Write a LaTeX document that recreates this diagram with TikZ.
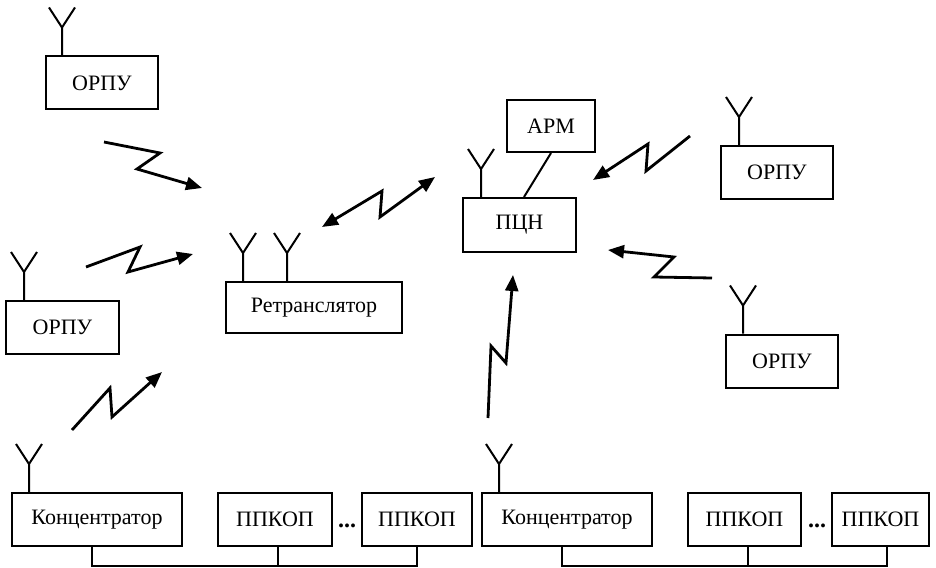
\documentclass[tikz,border=0pt]{standalone}
\usepackage{fontspec}
\setmainfont{Liberation Serif}
\usetikzlibrary{arrows.meta,calc}
\begin{document}
\begin{tikzpicture}[x=0.5pt,y=-0.5pt,
  box/.style={draw,line width=1pt,inner sep=0pt,minimum height=26.5pt,font=\fontsize{11}{13}\selectfont},
  zz/.style={line width=1.4pt,line join=miter,-{Triangle[length=8pt,width=6.5pt]}},
  zzb/.style={line width=1.4pt,line join=miter,{Triangle[length=8pt,width=6.5pt]}-{Triangle[length=8pt,width=6.5pt]}},
  bus/.style={line width=1pt},
  dotsty/.style={inner sep=0pt,anchor=base,font=\fontsize{12}{13}\selectfont\bfseries},
  antenna/.pic={\draw[line width=1pt] (0,0) -- (0,-28) (-13,-48) -- (0,-28) -- (13,-48);}]
\useasboundingbox (0,0) rectangle (936,567);

% boxes
\node[box,minimum width=56pt] (orpu1) at (102,83) {ОРПУ};
\node[box,minimum width=56.5pt] (orpu2) at (62.5,327.5) {ОРПУ};
\node[box,minimum width=56pt] (orpu3) at (777,172.5) {ОРПУ};
\node[box,minimum width=56pt] (orpu4) at (782,361) {ОРПУ};
\node[box,minimum width=88pt,minimum height=25.5pt] (retr) at (314,307.5) {Ретранслятор};
\node[box,minimum width=56.5pt,minimum height=27pt] (pcn) at (519.5,225) {ПЦН};
\node[box,minimum width=44pt,minimum height=26pt] (arm) at (551,126) {АРМ};
\node[box,minimum width=85pt] (konc1) at (97,519.5) {Концентратор};
\node[box,minimum width=57pt] (pp1) at (275,519.5) {ППКОП};
\node[box,minimum width=55pt] (pp2) at (417,519.5) {ППКОП};
\node[box,minimum width=85pt] (konc2) at (567,519.5) {Концентратор};
\node[box,minimum width=56.5pt] (pp3) at (744.5,519.5) {ППКОП};
\node[box,minimum width=48.5pt] (pp4) at (880.5,519.5) {ППКОП};

% dots
\node[dotsty] (dots1) at (347,527) {...};
\node[dotsty] (dots2) at (817,527) {...};

% antennas
\pic at ($(orpu1.north west)+(17,0)$) {antenna};
\pic at ($(orpu2.north west)+(19,0)$) {antenna};
\pic at ($(orpu3.north west)+(19,0)$) {antenna};
\pic at ($(orpu4.north west)+(18,0)$) {antenna};
\pic at ($(retr.north west)+(18,0)$) {antenna};
\pic at ($(retr.north west)+(62,0)$) {antenna};
\pic at ($(pcn.north west)+(19,0)$) {antenna};
\pic at ($(konc1.north west)+(18,0)$) {antenna};
\pic at ($(konc2.north west)+(18,0)$) {antenna};

% ARM - PCN
\draw[line width=1pt] (arm.south) -- ($(pcn.north)+(4.5,0)$);

% radio links
\coordinate (a1s) at (104,142); \coordinate (a1e) at (202,188);
\draw[zz] (a1s) -- (160,153) -- (137,169) -- (a1e);
\coordinate (a2s) at (86,267); \coordinate (a2e) at (193,254);
\draw[zz] (a2s) -- (140,247) -- (128,272) -- (a2e);
\coordinate (a3s) at (72,430); \coordinate (a3e) at (162,372);
\draw[zz] (a3s) -- (110,388) -- (112,417) -- (a3e);
\coordinate (a4s) at (322,227); \coordinate (a4e) at (435,177);
\draw[zzb] (a4s) -- (382,191) -- (380,217) -- (a4e);
\coordinate (a5s) at (690,136); \coordinate (a5e) at (593,180);
\draw[zz] (a5s) -- (646,171) -- (648,144) -- (a5e);
\coordinate (a6s) at (712,278); \coordinate (a6e) at (608,250);
\draw[zz] (a6s) -- (654,277) -- (674,257) -- (a6e);
\coordinate (a7s) at (488,418); \coordinate (a7e) at (513,275);
\draw[zz] (a7s) -- (491,346) -- (506,363) -- (a7e);

% buses
\draw[bus] ($(konc1.south)+(-5,0)$) -- ++(0,19) -| (pp2.south);
\draw[bus] ($(pp1.south)+(3,0)$) -- ++(0,19);
\draw[bus] ($(konc2.south)+(-5,0)$) -- ++(0,19) -| ($(pp4.south)+(6.5,0)$);
\draw[bus] ($(pp3.south)+(3.5,0)$) -- ++(0,19);
\end{tikzpicture}
\end{document}
